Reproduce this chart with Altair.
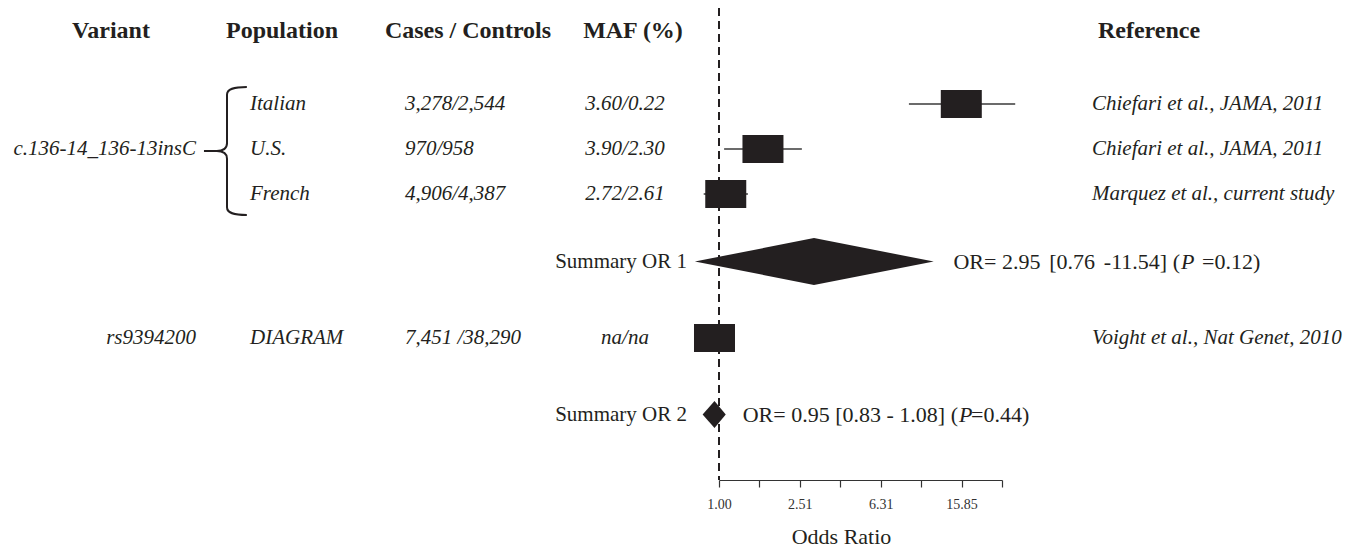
import altair as alt
import pandas as pd

# ---------------- data ----------------
headers = ["Variant", "Population", "Cases / Controls", "MAF (%)", "Reference"]

populations = ["Italian", "U.S.", "French", "DIAGRAM"]
cases_controls = ["3,278/2,544", "970/958", "4,906/4,387", "7,451 /38,290"]
maf_pct = ["3.60/0.22", "3.90/2.30", "2.72/2.61", "na/na"]
references = ["Chiefari et al., JAMA, 2011", "Chiefari et al., JAMA, 2011",
              "Marquez et al., current study", "Voight et al., Nat Genet, 2010"]
odds_ratio = [15.8, 1.65, 1.08, 0.95]
ci_low = [8.7, 1.06, 0.84, 0.83]
ci_high = [29.2, 2.57, 1.39, 1.08]

variants = ["c.136-14_136-13insC", "rs9394200"]

summary_labels = ["Summary OR 1", "Summary OR 2"]
summary_or = [2.95, 0.95]
summary_low = [0.76, 0.83]
summary_high = [11.54, 1.08]
# \u2009 = thin space (keeps the slightly wider spacing of the original typesetting)
summary_text_pre = ["OR= 2.95\u2009\u2009[0.76\u2009\u2009-11.54] (", "OR= 0.95 [0.83 - 1.08] ("]
summary_text_p = ["P", "P"]
summary_text_post = ["=0.12)", "=0.44)"]

tick_values = [1.00, 1.585, 2.512, 3.981, 6.310, 10.00, 15.85, 25.12]
tick_labels = ["1.00", "", "2.51", "", "6.31", "", "15.85", ""]

# ---------------- layout / style ----------------
FONT = "Liberation Serif"
INK = "#231f20"
W, H = 1343, 472
ROW_SLOT = {"Italian": 1, "U.S.": 2, "French": 3, "DIAGRAM": 6.2,
            "Summary OR 1": 4.5, "Summary OR 2": 7.9}
DIAMOND_HALF = {"Summary OR 1": 0.52, "Summary OR 2": 0.30}
# pixel anchors of the summary text pieces: (prefix right edge, P left, suffix left)
SUM_TEXT_X = {"Summary OR 1": (1172, 1173, 1194), "Summary OR 2": (950, 951, 963)}
BODY = 21
SUMF = 22
HEAD = 24

studies = pd.DataFrame({
    "population": populations, "cases": cases_controls, "maf": maf_pct,
    "ref": references, "or": odds_ratio, "lo": ci_low, "hi": ci_high,
})
studies["slot"] = studies["population"].map(ROW_SLOT)

summ = pd.DataFrame({
    "label": summary_labels, "or": summary_or, "lo": summary_low, "hi": summary_high,
    "pre": summary_text_pre, "p": summary_text_p, "post": summary_text_post,
})
summ["slot"] = summ["label"].map(ROW_SLOT)
summ["x_pre"] = summ["label"].map(lambda k: SUM_TEXT_X[k][0])
summ["x_p"] = summ["label"].map(lambda k: SUM_TEXT_X[k][1])
summ["x_post"] = summ["label"].map(lambda k: SUM_TEXT_X[k][2])

dia_rows = []
for _, r in summ.iterrows():
    h = DIAMOND_HALF[r["label"]]
    for xv, k in ((r["lo"], 0.0), (r["or"], 1.0), (r["hi"], 0.0)):
        dia_rows.append({"label": r["label"], "x": xv,
                         "y1": r["slot"] - k * h, "y2": r["slot"] + k * h})
diamonds = pd.DataFrame(dia_rows)

label_expr = ("[" + ",".join(f"'{l}'" for l in tick_labels) + "][indexof(["
              + ",".join(f"{v:g}" for v in tick_values) + "], datum.value)]")

x_scale = alt.Scale(type="log", domain=[tick_values[0], tick_values[-1]], range=[711, 994])
y_scale = alt.Scale(domain=[0, 10], range=[51, 501])
x_axis = alt.Axis(values=tick_values, labelExpr=label_expr, grid=False,
                  domainColor="#333333", domainWidth=1, tickColor="#333333",
                  tickWidth=1.2, tickSize=7, labelFont=FONT, labelFontSize=14,
                  labelColor="#333333", labelPadding=10, labelFlush=False,
                  labelOverlap=False, titleFont=FONT, titleFontSize=22,
                  titleFontWeight="normal", titleColor=INK, titleX=833, titleY=63,
                  titleBaseline="alphabetic")


def X(field):
    return alt.X(field, type="quantitative", scale=x_scale, axis=x_axis, title="Odds Ratio")


def Y(field):
    return alt.Y(field, type="quantitative", scale=y_scale, axis=None)


# reference line at OR = 1
ref_line = alt.Chart(studies).mark_rule(
    color=INK, strokeWidth=2, strokeDash=[8, 5]
).encode(x=alt.X(datum=1.0, type="quantitative", scale=x_scale, axis=x_axis, title="Odds Ratio"),
         y=alt.value(0), y2=alt.value(H))

whiskers = alt.Chart(studies).mark_rule(color="#3a3a3a", strokeWidth=1.3).encode(
    x=X("lo"), x2="hi", y=Y("slot"))

SQUARE = "M-1,-0.683L1,-0.683L1,0.683L-1,0.683Z"
squares = alt.Chart(studies).mark_point(
    shape=SQUARE, filled=True, size=41 * 41, color=INK, opacity=1, strokeWidth=0
).encode(x=X("or"), y=Y("slot"))

diamond = alt.Chart(diamonds).mark_area(color=INK, opacity=1).encode(
    x=X("x"), y=Y("y1"), y2="y2", detail="label:N")


def text_col(df, field, xpx, align="left", style="italic", size=BODY, weight="normal"):
    return alt.Chart(df).mark_text(
        font=FONT, fontSize=size, fontStyle=style, fontWeight=weight, color=INK,
        align=align, baseline="middle"
    ).encode(x=alt.value(xpx), y=Y("slot"), text=f"{field}:N")


pop_t = text_col(studies, "population", 242)
cases_t = text_col(studies, "cases", 397)
maf_t = text_col(studies, "maf", 617, align="center")
ref_t = text_col(studies, "ref", 1084)

var_df = pd.DataFrame({"variant": variants, "slot": [ROW_SLOT["U.S."], ROW_SLOT["DIAGRAM"]]})
var_t = text_col(var_df, "variant", 188, align="right")

sum_lab = text_col(summ, "label", 679, align="right", style="normal")


def sum_piece(field, xfield, align, style):
    return alt.Chart(summ).mark_text(
        font=FONT, fontSize=SUMF, fontStyle=style, color=INK, align=align, baseline="middle"
    ).encode(x=alt.X(f"{xfield}:Q", scale=None), y=Y("slot"), text=f"{field}:N")


sum_pre = sum_piece("pre", "x_pre", "right", "normal")
sum_p = sum_piece("p", "x_p", "left", "italic")
sum_post = sum_piece("post", "x_post", "left", "normal")

# column headers
HEAD_X = [103, 274, 460, 625, 1141]
head_df = pd.DataFrame({"h": headers})
head_layers = []
for name, hx in zip(headers, HEAD_X):
    head_layers.append(alt.Chart(head_df).transform_filter(
        alt.datum.h == name).mark_text(
        font=FONT, fontSize=HEAD, fontWeight="bold", color=INK, align="center",
        baseline="alphabetic").encode(x=alt.value(hx), y=alt.value(30), text="h:N"))

BRACE = ("M0.31,-1 C0.1,-1 0,-0.97 0,-0.88 L0,-0.12 C0,-0.04 -0.06,0 -0.16,0 "
         "C-0.06,0 0,0.04 0,0.12 L0,0.88 C0,0.97 0.1,1 0.31,1 M-0.16,0 L-0.36,0")
brace = alt.Chart(var_df.head(1)).mark_point(
    shape=BRACE, filled=False, size=128 * 128, stroke=INK, strokeWidth=2, opacity=1
).encode(x=alt.value(219), y=alt.value(143))

chart = alt.layer(
    ref_line, whiskers, squares, diamond, pop_t, cases_t, maf_t, ref_t, var_t,
    sum_lab, sum_pre, sum_p, sum_post, brace, *head_layers
).properties(
    width=W, height=H,
    background="white",
    autosize=alt.AutoSizeParams(type="none"),
    padding={"left": 0, "top": 0, "right": 0, "bottom": 68},
).configure_view(strokeWidth=0, stroke="transparent")

chart.save("out.html", embed_options={"renderer": "svg", "actions": False})
